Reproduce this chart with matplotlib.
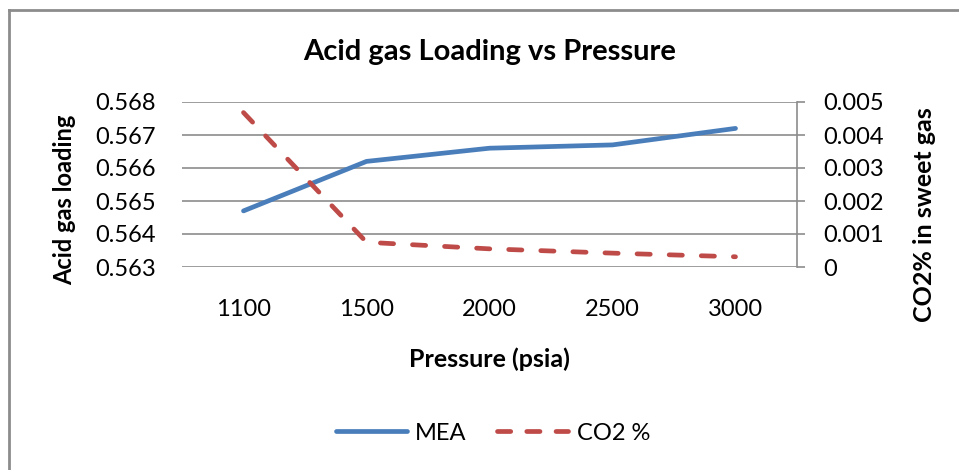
import matplotlib
matplotlib.use("Agg")
import matplotlib.pyplot as plt
from matplotlib.lines import Line2D
import numpy as np

# ------------------------------
# Data
# ------------------------------
pressure = ["1100", "1500", "2000", "2500", "3000"]
mea_loading = [0.5647, 0.5662, 0.5666, 0.5667, 0.5672]
co2_pct = [0.00468, 0.00075, 0.00055, 0.00042, 0.00031]

left_ticks = [0.563, 0.564, 0.565, 0.566, 0.567, 0.568]
right_ticks = [0, 0.001, 0.002, 0.003, 0.004, 0.005]
right_labels = ["0", "0.001", "0.002", "0.003", "0.004", "0.005"]

plt.rcParams["font.family"] = ["Lato", "DejaVu Sans"]

W, H = 959, 470
fig = plt.figure(figsize=(W / 100, H / 100), dpi=100)

# axes box in pixels: left 182, right 797, top 102, bottom 267
ax = fig.add_axes([182 / W, 1 - 267 / H, (797 - 182) / W, (267 - 102) / H])
ax2 = ax.twinx()

x = np.arange(len(pressure))
grid_col = "#8c8c8c"

ax.plot(x, mea_loading, color="#4A7EBB", lw=3.4, solid_capstyle="round",
        solid_joinstyle="round", zorder=3)
ax2.plot(x, co2_pct, color="#BE4B48", lw=3.4, dashes=(2.8, 4.0),
         dash_capstyle="round", zorder=3)

ax.set_xlim(-0.5, len(pressure) - 0.5)
ax.set_ylim(0.563, 0.568)
ax2.set_ylim(0, 0.005)

ax.set_yticks(left_ticks)
ax.set_yticklabels([f"{v:.3f}" for v in left_ticks])
ax2.set_yticks(right_ticks)
ax2.set_yticklabels(right_labels)

ax.set_xticks(x)
ax.set_xticklabels(pressure)

for a in (ax, ax2):
    for s in a.spines.values():
        s.set_visible(False)

ax.yaxis.grid(True, color=grid_col, lw=1.2)
ax.set_axisbelow(True)
ax2.spines["right"].set_visible(True)
ax2.spines["right"].set_color(grid_col)
ax2.spines["right"].set_linewidth(1.2)

ax.tick_params(axis="y", length=0, pad=19, labelsize=17)
ax.tick_params(axis="x", length=0, pad=23, labelsize=17)
ax2.tick_params(axis="y", length=6, width=1.2, color=grid_col, direction="out",
                pad=13, labelsize=17)

ax.set_title("Acid gas Loading vs Pressure", fontsize=21, fontweight="bold", pad=30)
ax.set_xlabel("Pressure (psia)", fontsize=18, fontweight="bold", labelpad=20)
ax.set_ylabel("Acid gas loading", fontsize=17, fontweight="bold")
ax2.set_ylabel("CO2% in sweet gas", fontsize=18, fontweight="bold")
# Excel puts the axis titles a bit below the middle of the plot area
ax.yaxis.set_label_coords(-0.172, 0.405)
ax2.yaxis.set_label_coords(1.189, 0.32)

# legend at the bottom
handles = [
    Line2D([], [], color="#4A7EBB", lw=3.4, solid_capstyle="round"),
    Line2D([], [], color="#BE4B48", lw=3.4, dashes=(2.8, 3.4), dash_capstyle="round"),
]
fig.legend(handles, ["MEA", "CO2 %"], loc="center", bbox_to_anchor=(493 / W, 1 - 433 / H),
           ncol=2, frameon=False, fontsize=17, handlelength=3.0, columnspacing=1.3,
           handletextpad=0.35)

# chart border (top and left edges visible)
fig.add_artist(Line2D([9 / W, 1], [1 - 10 / H, 1 - 10 / H], color="#8c8c8c", lw=2,
                      transform=fig.transFigure))
fig.add_artist(Line2D([9 / W, 9 / W], [0, 1 - 10 / H], color="#8c8c8c", lw=2,
                      transform=fig.transFigure))

fig.savefig("out.png", dpi=100, facecolor="white")
